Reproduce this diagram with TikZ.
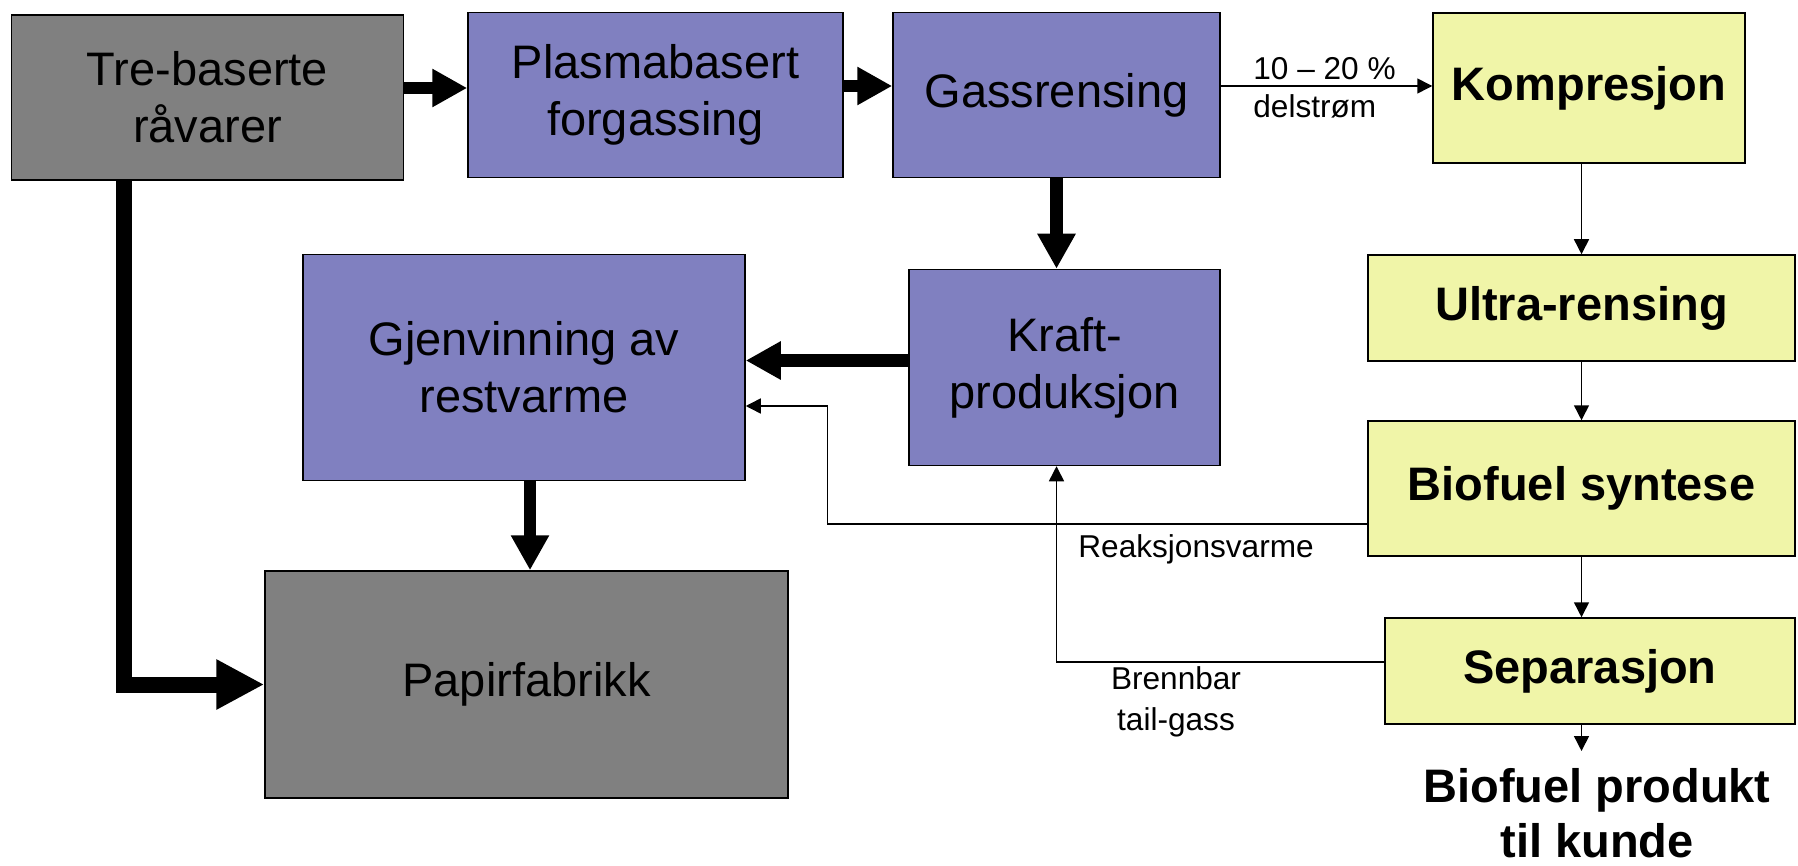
\documentclass[tikz,border=0pt]{standalone}
\usepackage{fontspec}
\setmainfont{Liberation Sans}
\usetikzlibrary{arrows.meta}
\definecolor{raagraa}{HTML}{808080}
\definecolor{lilla}{HTML}{8080C0}
\definecolor{gul}{HTML}{F0F5A8}

\begin{document}
\begin{tikzpicture}[x=0.5pt,y=-0.5pt,
    boks/.style={draw=black,line width=0.75pt,inner sep=0pt,align=center,
      font=\fontsize{23.5}{28.5}\selectfont},
    graa/.style={boks,fill=raagraa},
    blaa/.style={boks,fill=lilla},
    gulboks/.style={boks,fill=gul,font=\fontsize{23.5}{28.5}\selectfont\bfseries},
    tykk/.style={line width=6.15pt,-{Triangle[length=17.5pt,width=18pt]}},
    tynn/.style={line width=0.75pt,-{Triangle[length=7.5pt,width=7.5pt]}},
    merke/.style={font=\fontsize{15.8}{20.5}\selectfont,inner sep=0pt,align=center}]

    \useasboundingbox (0,0) rectangle (1798,866);

    % bokser
    \node[graa,minimum width=196pt,minimum height=82.5pt] (raa) at (207.5,97.5) {Tre-baserte\\råvarer};
    \node[blaa,minimum width=187.5pt,minimum height=82.5pt] (plasma) at (655.5,95) {Plasmabasert\\forgassing};
    \node[blaa,minimum width=163.5pt,minimum height=82.5pt] (gass) at (1056.5,95) {Gassrensing};
    \node[gulboks,minimum width=156pt,minimum height=75pt] (komp) at (1589,88) {Kompresjon};
    \node[gulboks,minimum width=213.5pt,minimum height=53pt] (ultra) at (1581.5,308) {Ultra-rensing};
    \node[gulboks,minimum width=213.5pt,minimum height=67.5pt] (syntese) at (1581.5,488.5) {Biofuel syntese};
    \node[gulboks,minimum width=205pt,minimum height=53pt] (sep) at (1590,671) {Separasjon};
    \node[blaa,minimum width=155.5pt,minimum height=98pt] (kraft) at (1064.5,367.5) {Kraft-\\produksjon};
    \node[blaa,minimum width=221pt,minimum height=113pt] (gjen) at (524,367.5) {Gjenvinning av\\restvarme};
    \node[graa,minimum width=261.5pt,minimum height=113.5pt] (papir) at (526.5,684.5) {Papirfabrikk};
    \node[font=\fontsize{23.5}{27.5}\selectfont\bfseries,align=center,inner sep=0pt,anchor=north] (produkt) at (1597,768) {Biofuel produkt\\til kunde};

    % tekst ved pilene
    \node[merke,anchor=base west] (andel) at (1253,80) {10 – 20 \%};
    \node[merke,anchor=base west] (delstrom) at (1253,118) {delstrøm};
    \node[merke,anchor=base west] (varme) at (1078,557) {Reaksjonsvarme};
    \node[merke,anchor=north] (tailgass) at (1176,666) {Brennbar\\tail-gass};
    \coordinate (knekk) at (827.5,524); % hjørne

    % tykke piler
    \draw[tykk] ([yshift=3.5pt]plasma.west -| raa.east) -- ([yshift=3.5pt]plasma.west);
    \draw[tykk] ([yshift=4.5pt]gass.west -| plasma.east) -- ([yshift=4.5pt]gass.west);
    \draw[tykk] (gass.south) -- (gass.south |- kraft.north);
    \draw[tykk] ([yshift=3.5pt]kraft.west) -- ([yshift=3.5pt]kraft.west -| gjen.east);
    \draw[tykk] ([xshift=3pt]gjen.south) -- ([xshift=3pt]gjen.south |- papir.north);
    \draw[tykk,line width=8pt,-{Triangle[length=24pt,width=23.5pt]},line join=miter]
        ([xshift=-41.9pt]raa.south) |- (papir.west);

    % tynne piler
    \draw[tynn] ([yshift=1pt]komp.west -| gass.east) -- ([yshift=1pt]komp.west);
    \draw[tynn] (komp.south -| ultra.north) -- (ultra.north);
    \draw[tynn] (ultra.south) -- (syntese.north);
    \draw[tynn] (syntese.south) -- (syntese.south |- sep.north);
    \draw[tynn,shorten >=8.5pt] (syntese.south |- sep.south) -- (syntese.south |- produkt.north);
    \draw[tynn] ([yshift=-17.75pt]syntese.west) -- (knekk) |- ([yshift=-19.25pt]gjen.east);
    \draw[tynn] ([yshift=4.5pt]sep.west) -| (gass.south |- kraft.south);

\end{tikzpicture}
\end{document}
